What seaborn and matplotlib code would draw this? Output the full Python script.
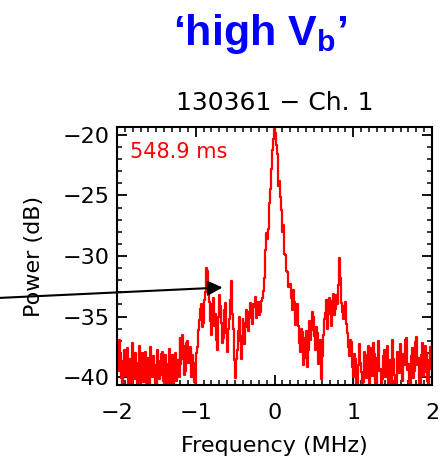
import numpy as np
import pandas as pd
import seaborn as sns
import matplotlib.pyplot as plt
from matplotlib.ticker import MultipleLocator

# frequency grid (MHz) and power spectrum (dB)
freq_start = -2.0
freq_step = 0.0125
power = [
    -37.0, -38.6, -39.5, -36.9, -38.2, -40.1, -40.8, -38.7, -37.8, -39.9, -39.0, -37.6, -41.0, -39.4, -38.5, -40.6,
    -37.2, -39.1, -40.2, -38.0, -38.8, -41.0, -39.6, -37.4, -41.0, -39.3, -38.0, -40.4, -39.2, -37.9, -40.5, -38.8,
    -38.4, -40.7, -37.5, -39.6, -40.0, -38.3, -39.0, -41.0, -41.0, -37.8, -38.7, -40.2, -39.8, -38.1, -37.9, -40.3,
    -40.6, -38.2, -38.9, -41.0, -39.5, -37.7, -41.0, -39.4, -38.2, -40.6, -39.7, -38.0, -40.3, -38.9, -38.6, -40.0,
    -36.8, -38.9, -38.5, -36.5, -37.4, -39.8, -39.5, -37.2, -37.0, -38.8, -38.3, -37.5, -40.0, -38.2, -38.8, -40.4,
    -40.5, -38.0, -37.5, -36.1, -35.3, -34.4, -34.0, -35.9, -35.5, -33.6, -33.0, -31.0, -31.2, -33.2, -33.8, -35.4,
    -36.5, -34.0, -33.5, -35.8, -34.8, -36.9, -37.8, -35.0, -33.2, -34.1, -35.5, -37.2, -36.8, -34.5, -33.9, -36.4,
    -37.9, -36.0, -35.2, -33.6, -32.1, -34.8, -36.0, -38.6, -40.1, -38.5, -37.8, -36.2, -35.0, -37.0, -38.5, -36.6,
    -35.2, -36.8, -37.3, -35.5, -34.5, -35.9, -36.2, -34.6, -33.9, -35.1, -35.6, -34.0, -34.2, -33.4, -35.1, -34.0,
    -33.8, -34.9, -34.6, -33.7, -33.5, -32.9, -31.8, -29.5, -28.1, -28.6, -27.8, -25.6, -24.5, -22.8, -21.2, -20.3,
    -19.5, -19.8, -20.8, -21.6, -24.2, -23.8, -25.1, -26.2, -28.0, -27.4, -29.8, -29.9, -31.2, -31.3, -32.6, -32.4,
    -32.3, -33.5, -34.5, -32.8, -33.8, -35.7, -35.2, -34.0, -35.8, -37.2, -37.9, -36.0, -36.3, -39.0, -38.4, -36.8,
    -37.5, -36.2, -39.2, -37.8, -35.4, -36.9, -36.1, -34.6, -35.0, -36.6, -37.8, -35.9, -36.4, -38.9, -38.0, -36.9,
    -40.2, -38.3, -36.5, -35.2, -34.7, -33.6, -36.0, -34.2, -33.5, -34.8, -35.8, -33.7, -33.1, -34.9, -34.4, -33.2,
    -34.0, -32.4, -30.2, -31.8, -33.9, -34.6, -35.2, -34.1, -33.8, -35.6, -36.4, -37.5, -38.3, -36.9, -37.1, -39.2,
    -40.0, -38.1, -38.5, -40.7, -41.0, -39.0, -37.3, -38.8, -39.6, -41.0, -40.4, -37.9, -38.2, -40.1, -39.1, -37.4,
    -41.0, -38.9, -37.6, -39.7, -39.9, -37.2, -38.1, -40.5, -40.8, -38.4, -37.0, -39.5, -39.3, -41.0, -40.2, -38.3,
    -37.8, -40.0, -39.4, -37.4, -41.0, -39.1, -38.6, -40.6, -36.9, -38.5, -39.8, -41.0, -40.5, -37.9, -38.0, -39.7,
    -37.3, -39.2, -40.3, -38.1, -39.0, -36.9, -36.8, -39.4, -38.9, -40.7, -41.0, -38.3, -37.6, -40.1, -39.5, -37.1,
    -36.7, -39.0, -38.4, -40.8, -40.6, -38.2, -37.2, -39.9, -39.6, -37.4, -38.1, -40.3, -40.9, -38.6, -37.5, -39.3,
    -37.1,
]
freq = [freq_start + i * freq_step for i in range(len(power))]

df = pd.DataFrame({'freq': freq, 'power': power})

sns.set_style('ticks')
plt.rcParams['font.family'] = ['DejaVu Sans']
plt.rcParams['text.color'] = 'black'
plt.rcParams['axes.labelcolor'] = 'black'
plt.rcParams['xtick.color'] = 'black'
plt.rcParams['ytick.color'] = 'black'
plt.rcParams['mathtext.fontset'] = 'custom'
plt.rcParams['mathtext.rm'] = 'Liberation Sans:bold'
plt.rcParams['mathtext.it'] = 'Liberation Sans:bold'

fig = plt.figure(figsize=(4.44, 4.59), dpi=100)
ax = fig.add_axes([0.2635, 0.1612, 0.7095, 0.5621])

sns.lineplot(data=df, x='freq', y='power', ax=ax, color='#ff0000',
             linewidth=1.6, drawstyle='steps-mid')

ax.set_xlim(-2, 2)
ax.set_ylim(-40.66, -19.34)
ax.xaxis.set_major_locator(MultipleLocator(1))
ax.xaxis.set_minor_locator(MultipleLocator(0.1))
ax.yaxis.set_major_locator(MultipleLocator(5))
ax.yaxis.set_minor_locator(MultipleLocator(1))
ax.tick_params(which='both', direction='in', top=True, right=True,
               color='black', labelsize=16, labelcolor='black')
ax.tick_params(which='major', length=7, width=1.3)
ax.tick_params(which='minor', length=3.5, width=1.1)
ax.tick_params(axis='x', which='major', pad=13)
ax.tick_params(axis='y', which='major', pad=5)
for s in ax.spines.values():
    s.set_color('black')
    s.set_linewidth(1.5)

ax.set_xlabel('Frequency (MHz)', fontsize=16, labelpad=9, color='black')
ax.set_ylabel('Power (dB)', fontsize=16, labelpad=14, color='black')
ax.set_title('130361 \u2212 Ch. 1', fontsize=18, pad=12, color='black')

ax.text(0.04, 0.905, '548.9 ms', transform=ax.transAxes, color='#ff0000',
        fontsize=15, va='center', ha='left')

fig.text(0.585, 0.925, '\u2018high V$_\\mathrm{b}$\u2019', color='#0000ff',
         fontsize=31, fontweight='bold', family='Liberation Sans',
         ha='center', va='center')

ax.annotate('', xy=(-0.66, -32.6), xycoords='data',
            xytext=(0.0, 0.351), textcoords='figure fraction',
            arrowprops=dict(arrowstyle='-|>', color='black', lw=1.5,
                            mutation_scale=22, shrinkA=0, shrinkB=0),
            annotation_clip=False)

fig.savefig('out.png', dpi=100)
